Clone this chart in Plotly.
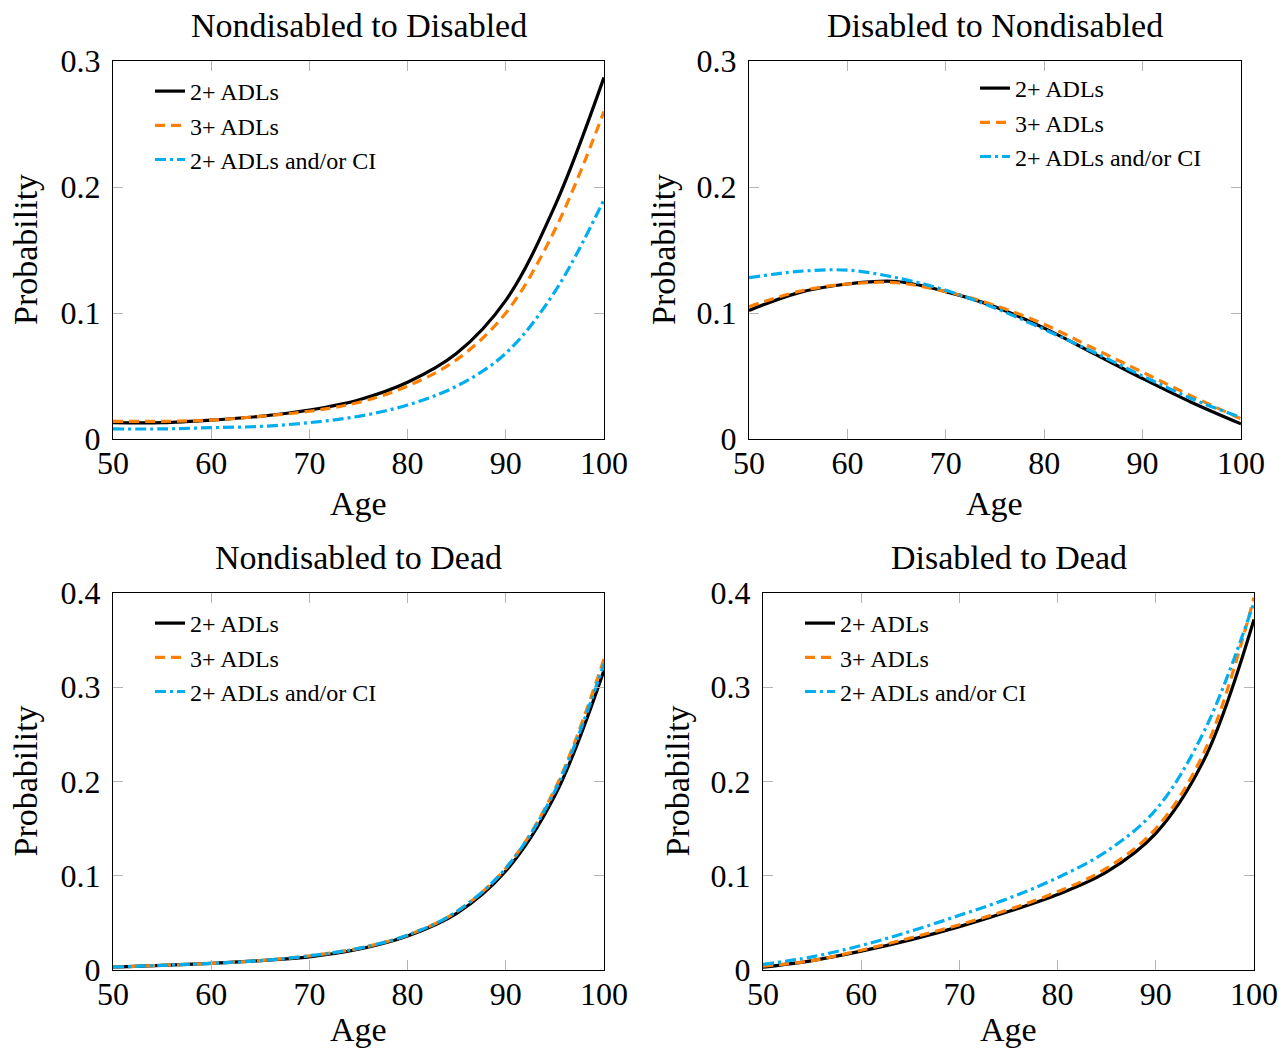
import plotly.graph_objects as go

ages = [50, 55, 60, 65, 70, 75, 80, 85, 90, 95, 100]
series_names = ["2+ ADLs", "3+ ADLs", "2+ ADLs and/or CI"]

# Nondisabled to Disabled
nd_to_d_2adl = [0.013, 0.013, 0.015, 0.018, 0.023, 0.031, 0.045, 0.068, 0.110, 0.185, 0.287]
nd_to_d_3adl = [0.014, 0.014, 0.015, 0.018, 0.022, 0.029, 0.042, 0.063, 0.100, 0.166, 0.260]
nd_to_d_ci = [0.008, 0.008, 0.009, 0.010, 0.013, 0.018, 0.027, 0.042, 0.068, 0.117, 0.190]

# Disabled to Nondisabled
d_to_nd_2adl = [0.102, 0.116, 0.123, 0.125, 0.117, 0.105, 0.088, 0.068, 0.048, 0.029, 0.012]
d_to_nd_3adl = [0.105, 0.117, 0.123, 0.124, 0.117, 0.106, 0.091, 0.072, 0.053, 0.034, 0.016]
d_to_nd_ci = [0.128, 0.133, 0.134, 0.128, 0.118, 0.104, 0.087, 0.069, 0.050, 0.032, 0.017]

# Nondisabled to Dead
nd_to_dead_2adl = [0.003, 0.005, 0.007, 0.010, 0.014, 0.022, 0.036, 0.060, 0.105, 0.185, 0.318]
nd_to_dead_3adl = [0.003, 0.005, 0.007, 0.010, 0.015, 0.023, 0.037, 0.062, 0.108, 0.192, 0.330]
nd_to_dead_ci = [0.003, 0.005, 0.007, 0.010, 0.015, 0.023, 0.037, 0.062, 0.108, 0.190, 0.325]

# Disabled to Dead
d_to_dead_2adl = [0.003, 0.010, 0.020, 0.032, 0.046, 0.062, 0.080, 0.104, 0.145, 0.225, 0.372]
d_to_dead_3adl = [0.004, 0.010, 0.021, 0.034, 0.048, 0.064, 0.083, 0.108, 0.150, 0.233, 0.395]
d_to_dead_ci = [0.006, 0.014, 0.026, 0.041, 0.058, 0.076, 0.098, 0.126, 0.170, 0.255, 0.390]

panels = [
    ("Nondisabled to Disabled", [nd_to_d_2adl, nd_to_d_3adl, nd_to_d_ci], [0, 0.3], [0, 0.1, 0.2, 0.3]),
    ("Disabled to Nondisabled", [d_to_nd_2adl, d_to_nd_3adl, d_to_nd_ci], [0, 0.3], [0, 0.1, 0.2, 0.3]),
    ("Nondisabled to Dead", [nd_to_dead_2adl, nd_to_dead_3adl, nd_to_dead_ci], [0, 0.4], [0, 0.1, 0.2, 0.3, 0.4]),
    ("Disabled to Dead", [d_to_dead_2adl, d_to_dead_3adl, d_to_dead_ci], [0, 0.4], [0, 0.1, 0.2, 0.3, 0.4]),
]

W, H = 1279, 1050
FONT = "Liberation Serif"

def px(x):
    return x / W

def py(y):
    return 1 - y / H

# plot-area boxes in window pixels: (left, right, top, bottom)
boxes = [(113, 604, 61, 439), (749, 1241, 61, 439), (113, 604, 593, 970), (763, 1254, 593, 970)]
# legend anchor (text left x, first item center y)
legend_pos = [(190, 91), (1015, 88), (190, 623), (840, 623)]
ylab_x = [25, 663, 25, 677]
age_offset = [64, 64, 59, 59]

styles = [
    dict(color="black", width=3.2, dash="solid"),
    dict(color="#ff8000", width=3.2, dash="10px,6px"),
    dict(color="#00aeef", width=3.2, dash="11px,4px,3px,4px"),
]

fig = go.Figure()
annotations = []
for i, (title, ys, yr, yt) in enumerate(panels):
    n = "" if i == 0 else str(i + 1)
    lname = "legend" + n
    for name, yv, st in zip(series_names, ys, styles):
        fig.add_trace(go.Scatter(
            x=ages, y=yv, mode="lines", name=name, line=dict(shape="spline", **st),
            xaxis="x" + n, yaxis="y" + n, legend=lname, showlegend=True,
        ))
    l, r, t, b = boxes[i]
    axcommon = dict(showline=True, linecolor="black", linewidth=1.2, mirror="ticks",
                    ticks="inside", ticklen=10, tickcolor="#b4b4b4", tickwidth=1.2,
                    showgrid=False, zeroline=False, automargin=False,
                    tickfont=dict(family=FONT, size=32, color="black"))
    fig.update_layout(**{
        "xaxis" + n: dict(domain=[px(l), px(r)], range=[50, 100], tickvals=[50, 60, 70, 80, 90, 100],
                          anchor="y" + n, ticklabelstandoff=-5, **axcommon),
        "yaxis" + n: dict(domain=[py(b), py(t)], range=yr, tickvals=yt,
                          ticktext=[("0" if v == 0 else f"{v:.1f}") for v in yt],
                          anchor="x" + n, ticklabelstandoff=5, **axcommon),
    })
    lx, ly = legend_pos[i]
    fig.update_layout(**{lname: dict(x=px(lx - 40), y=py(ly - 22), xanchor="left", yanchor="top",
                                     bgcolor="rgba(0,0,0,0)", borderwidth=0,
                                     font=dict(family=FONT, size=24, color="black"))})
    cx = (l + r) / 2
    annotations.append(dict(text=title, x=px(cx), y=py(t - 36), xref="paper", yref="paper",
                            xanchor="center", yanchor="middle",
                            showarrow=False, font=dict(family=FONT, size=34, color="black")))
    annotations.append(dict(text="Age", x=px(cx), y=py(b + age_offset[i]), xref="paper", yref="paper",
                            xanchor="center", yanchor="middle",
                            showarrow=False, font=dict(family=FONT, size=34, color="black")))
    annotations.append(dict(text="Probability", x=px(ylab_x[i]), y=py((t + b) / 2), xref="paper", yref="paper",
                            xanchor="center", yanchor="middle",
                            showarrow=False, textangle=-90, font=dict(family=FONT, size=34, color="black")))

fig.update_layout(
    width=W, height=H, margin=dict(l=0, r=0, t=0, b=0, autoexpand=False),
    paper_bgcolor="white", plot_bgcolor="white",
    annotations=annotations,
    font=dict(family=FONT, color="black"),
)

fig.write_html("out.html", config={"displayModeBar": False},
               post_script="document.body.style.margin='0';document.body.style.overflow='hidden';")
